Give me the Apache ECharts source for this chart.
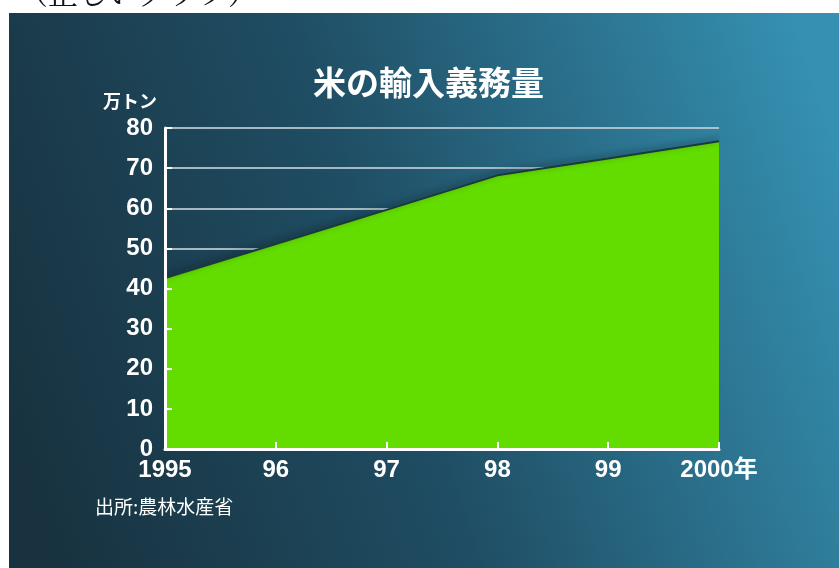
<!DOCTYPE html>
<html><head><meta charset="utf-8">
<script src="https://cdn.jsdelivr.net/npm/echarts@6/dist/echarts.min.js"></script>
<style>html,body{margin:0;padding:0;background:#fff}#c{width:839px;height:568px}</style>
</head><body><div id="c"></div>
<script>
var categories = ['1995', '96', '97', '98', '99', '2000年'];
var imports = [42.6, 51.1, 59.6, 68.2, 72.4, 76.7];
var yTicks = {min: 0, max: 80, interval: 10};

var chart = echarts.init(document.getElementById('c'));
var numFont = '"Liberation Sans", Arial, "Noto Sans CJK JP", sans-serif';
var cjkFont = '"Noto Sans CJK JP", "Liberation Sans", sans-serif';
var axisWhite = {color: '#fff', width: 3};
chart.setOption({
  animation: false,
  graphic: [
    {type: 'rect', z: -10, shape: {x: 9, y: 13, width: 830, height: 555},
     style: {fill: new echarts.graphic.LinearGradient(0, 0.75, 1, 0.25, [
       {offset: 0, color: '#18323f'},
       {offset: 0.45, color: '#1f4d63'},
       {offset: 1, color: '#3590b1'}
     ])}},
    {type: 'text', left: 18, top: -22, z: 10,
     style: {text: '（正しいグラフ）', fill: '#111', font: '30px "Noto Serif CJK JP", "Noto Sans CJK JP", serif'}},
    {type: 'text', left: 313, top: 66, z: 10,
     style: {text: '米の輸入義務量', fill: '#fff', font: 'bold 33px ' + cjkFont}},
    {type: 'text', left: 103, top: 92, z: 10,
     style: {text: '万トン', fill: '#fff', font: 'bold 18px ' + cjkFont}},
    {type: 'text', left: 95, top: 497, z: 10,
     style: {text: '出所:農林水産省', fill: '#fff', font: '19px ' + cjkFont}}
  ],
  grid: {left: 165, right: 120, top: 128, bottom: 119},
  xAxis: {
    type: 'category', data: categories, boundaryGap: false, z: 5,
    axisLine: {lineStyle: axisWhite},
    axisTick: {inside: true, length: 7, lineStyle: {color: '#fff', width: 2}},
    axisLabel: {color: '#fff', fontSize: 24, fontWeight: 'bold', fontFamily: numFont, margin: 9}
  },
  yAxis: [{
    type: 'value', min: yTicks.min, max: yTicks.max, interval: yTicks.interval, z: 0,
    axisLine: {show: false},
    axisTick: {show: false},
    axisLabel: {color: '#fff', fontSize: 24, fontWeight: 'bold', fontFamily: numFont, margin: 12},
    splitLine: {lineStyle: {color: 'rgba(190,205,212,0.85)', width: 2}}
  }, {
    type: 'value', min: yTicks.min, max: yTicks.max, interval: yTicks.interval, z: 5,
    position: 'left',
    axisLine: {show: true, lineStyle: axisWhite},
    axisTick: {show: true, inside: true, length: 7, lineStyle: {color: '#fff', width: 2}},
    axisLabel: {show: false},
    splitLine: {show: false}
  }],
  series: [{
    type: 'line', data: imports, symbol: 'none', z: 2, yAxisIndex: 0,
    lineStyle: {color: '#1a3a3a', width: 2, shadowColor: 'rgba(0,0,0,0.5)', shadowBlur: 6, shadowOffsetY: -2},
    areaStyle: {color: '#63dc00', opacity: 1}
  }]
});
</script></body></html>
